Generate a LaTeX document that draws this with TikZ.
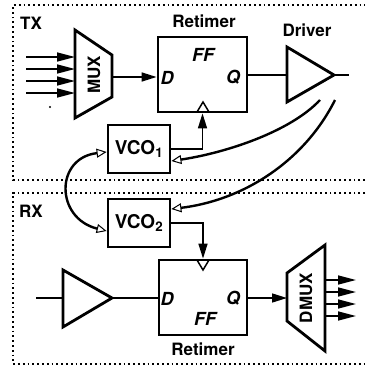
\documentclass[tikz,border=0pt]{standalone}
\usepackage{fontspec}
\setmainfont{TeX Gyre Heros}
\usetikzlibrary{arrows.meta}
\tikzset{
  blk/.style={draw,line width=2.8pt,inner sep=0pt},
  lbl/.style={font=\bfseries\fontsize{17}{20}\selectfont,inner sep=0pt},
  vco/.style={blk,font=\bfseries\fontsize{19}{20}\selectfont,minimum width=62pt,minimum height=48pt},
  pin/.style={font=\bfseries\itshape\fontsize{18}{20}\selectfont,inner sep=0pt},
  wire/.style={line width=1.5pt},
  sig/.style={wire,-{Triangle[length=15pt,width=9pt]}},
  bus/.style={wire,-{Triangle[length=18pt,width=9pt]}},
  noise/.style={line width=2.4pt,>={Triangle[open,length=10pt,width=9pt,line width=1pt]},->},
  frame/.style={line width=1.8pt,dash pattern=on 1.8pt off 3pt}
}
\begin{document}
\begin{tikzpicture}[x=1pt,y=-1pt]
    \useasboundingbox (0,0) rectangle (365,367);

    % Frames
    \draw[frame] (365,180) -- (13,180) -- (13,5) -- (365,5);
    \draw[frame] (365,193) -- (13,193) -- (13,364) -- (365,364);
    \node[lbl] (txlab) at (31,23) {TX};
    \node[lbl] (rxlab) at (31,211) {RX};

    % MUX
    \draw[blk] (75,30) -- (112,55) -- (112,97) -- (75,118) -- cycle;
    \node[lbl,rotate=90] (mux) at (94,75) {MUX};
    \foreach \y in {57,69,81,93}
        \draw[bus] (26,\y) -- (75,\y);
    \fill (50,107) circle (1.2);
    \coordinate (muxOut) at (112,77);

    % Retimer (TX)
    \node[blk,minimum width=89pt,minimum height=75pt] (ffT) at (202.5,74.5) {};
    \node[lbl] (rtT) at (204,21) {Retimer};
    \node[pin] (dT) at (167,78) {D};
    \node[pin] (qT) at (233,77) {Q};
    \node[pin] (fT) at (203,55) {FF};
    \draw[wire] (197,112) -- (203,102) -- (209,112);
    \draw[sig] (muxOut) -- (muxOut -| ffT.west);

    % Driver
    \coordinate (drvIn) at (287,75);
    \coordinate (drvOut) at (334,75);
    \coordinate (txOut) at (349,75);
    \draw[blk] (287,47) -- (drvOut) -- (287,102) -- cycle;
    \node[lbl] (drv) at (307,30) {Driver};
    \draw[wire] (ffT.east |- drvIn) -- (drvIn);
    \draw[wire] (drvOut) -- (txOut);

    % Retimer (RX)
    \node[blk,minimum width=88pt,minimum height=75pt] (ffR) at (203,297.5) {};
    \node[lbl] (rtR) at (203,349) {Retimer};
    \node[pin] (dR) at (167,299) {D};
    \node[pin] (qR) at (233,298) {Q};
    \node[pin] (fR) at (205,319) {FF};
    \draw[wire] (197,260) -- (203,270) -- (209,260);

    % VCOs
    \node[vco] (vcoA) at (139,149) {VCO\textsubscript{1}};
    \node[vco] (vcoB) at (139,223) {VCO\textsubscript{2}};
    \draw[sig] (vcoA.east) -| (ffT.south);
    \draw[sig] (vcoB.east) -| (ffR.north);

    % Receiver amp
    \coordinate (rxIn) at (36,298);
    \coordinate (ampIn) at (63,298);
    \coordinate (ampOut) at (112,298);
    \draw[blk] (63,270) -- (ampOut) -- (63,327) -- cycle;
    \draw[wire] (rxIn) -- (ampIn);
    \draw[wire] (ampOut) -- (ampOut -| ffR.west);

    % DMUX
    \draw[blk] (287,273) -- (325,245) -- (325,351) -- (287,321) -- cycle;
    \node[lbl,rotate=90] (dmux) at (306,298) {DMUX};
    \coordinate (dmuxIn) at (287,298);
    \draw[sig] (ffR.east |- dmuxIn) -- (dmuxIn);
    \foreach \y in {280,292,304,316}
        \draw[bus] (325,\y) -- (356,\y);

    % Coupling paths
    \coordinate (nzA) at (320,100);
    \coordinate (nzB) at (335,100);
    \draw[noise] (nzA) .. controls (290,132) and (225,153) .. ([yshift=-12pt]vcoA.east);
    \draw[noise] (nzB) .. controls (305,160) and (245,200) .. ([yshift=14pt]vcoB.east);
    \draw[noise,<->] ([yshift=-3pt]vcoA.west) .. controls (55,158) and (55,218) .. ([yshift=-8pt]vcoB.west);
\end{tikzpicture}
\end{document}
